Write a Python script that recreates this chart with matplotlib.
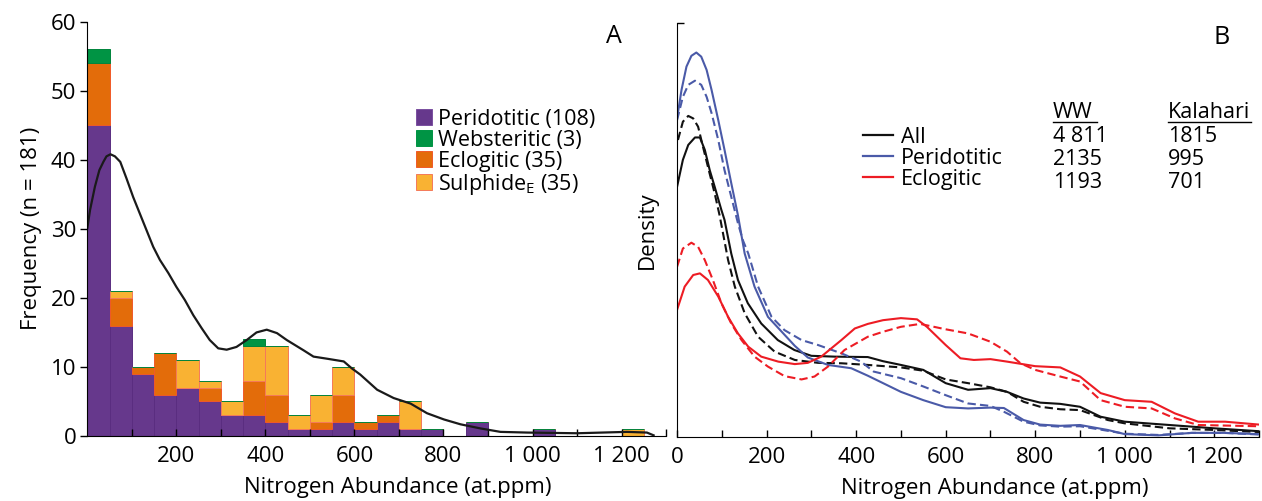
import matplotlib
matplotlib.use("Agg")
import matplotlib.pyplot as plt
from matplotlib.patches import Patch
from matplotlib.lines import Line2D
from matplotlib.ticker import FixedLocator, FuncFormatter

plt.rcParams['font.family'] = ['Open Sans', 'DejaVu Sans']

# ---- panel A: stacked histogram (bin width 50 at.ppm) ----
bin_left = [0, 50, 100, 150, 200, 250, 300, 350, 400, 450, 500, 550, 600,
            650, 700, 750, 800, 850, 900, 950, 1000, 1050, 1100, 1150, 1200]
peridotitic = [45, 16, 9, 6, 7, 5, 3, 3, 2, 1, 1, 2, 1, 2, 1, 1, 0, 2, 0, 0, 1, 0, 0, 0, 0]
eclogitic = [9, 4, 1, 6, 0, 2, 0, 5, 4, 0, 1, 4, 1, 1, 0, 0, 0, 0, 0, 0, 0, 0, 0, 0, 0]
sulphide = [0, 1, 0, 0, 4, 1, 2, 5, 7, 2, 4, 4, 0, 0, 4, 0, 0, 0, 0, 0, 0, 0, 0, 0, 1]
websteritic = [2, 0, 0, 0, 0, 0, 0, 1, 0, 0, 0, 0, 0, 0, 0, 0, 0, 0, 0, 0, 0, 0, 0, 0, 0]

# smoothed frequency curve drawn over the histogram
curve_x = [0, 6, 17, 27, 36, 43, 52, 62, 74, 88, 103, 118, 133, 148, 163, 182, 200, 219, 238, 257,
           275, 294, 313, 335, 358, 380, 403, 426, 448, 486, 508, 538, 576, 594, 613, 651, 688, 726,
           763, 801, 838, 883, 928, 988, 1100, 1212, 1257, 1272]
curve_y = [30.1, 32.7, 36.1, 38.5, 39.7, 40.5, 40.8, 40.5, 39.7, 37.3, 34.6, 32.2, 29.8, 27.4, 25.5, 23.6, 21.6, 19.7, 17.5, 15.6,
           13.9, 12.7, 12.5, 12.9, 13.9, 15.0, 15.4, 14.9, 13.9, 12.4, 11.5, 11.2, 10.8, 9.8, 8.9, 6.7, 5.5, 4.7,
           3.3, 2.4, 1.7, 1.1, 0.6, 0.5, 0.4, 0.6, 0.5, 0.1]

# ---- panel B: density curves (solid = WW, dashed = Kalahari) ----
all_ww_x = [0, 13, 25, 40, 51, 62, 73, 84, 99, 106, 121, 136, 158, 188, 225, 262, 300, 352, 426, 460,
            500, 550, 600, 650, 700, 737, 774, 811, 856, 900, 946, 1000, 1100, 1200, 1300]
all_ww_y = [60.4, 66.9, 70.5, 72.3, 72.3, 69.3, 64.4, 60.4, 54.8, 52.4, 44.3, 37.9, 32.3, 27.4, 23.4, 21, 19.6, 19.4, 19.3, 18.3,
            17.4, 16.2, 13, 11.4, 11.8, 10.9, 9.3, 8.3, 8.0, 7.3, 4.9, 3.7, 2.9, 2.1, 1.4]
all_kal_x = [2, 13, 25, 36, 47, 58, 69, 84, 95, 114, 129, 151, 181, 218, 263, 315, 367, 426,
             500, 550, 600, 650, 700, 737, 774, 811, 856, 900, 962, 1000, 1100, 1200, 1300]
all_kal_y = [71.7, 76.1, 77.5, 76.9, 74.9, 70, 65.2, 58.8, 53.5, 42.7, 36.3, 29.9, 24.2, 20.6, 18.6, 17.9, 17.8, 17.4,
             16.8, 16, 13.9, 13, 12, 10.9, 8.5, 7.3, 6.7, 6.5, 4.1, 3.3, 2.1, 1.7, 1.2]
per_ww_x = [0, 10, 21, 32, 43, 54, 66, 77, 92, 106, 121, 136, 151, 173, 203, 233, 263, 292, 337, 389, 426,
            500, 550, 600, 650, 700, 730, 774, 811, 856, 900, 962, 1000, 1075, 1150, 1222, 1300]
per_ww_y = [76.9, 83.8, 89.4, 92, 92.8, 91.8, 88.6, 83.8, 76.5, 69.3, 61.3, 53.5, 44.3, 36.3, 29, 25.5, 22, 19.2, 17.4, 16.6, 14.8,
            10.9, 8.9, 7.2, 6.9, 7.1, 7.0, 4.1, 3.0, 2.7, 2.9, 1.7, 0.7, 0.4, 1.0, 1.0, 0.7]
per_kal_x = [0, 13, 25, 40, 54, 66, 77, 92, 106, 121, 136, 147, 159, 181, 211, 240, 278, 315, 367, 411,
             439, 500, 550, 600, 650, 700, 730, 774, 811, 856, 900, 962, 1000, 1075, 1150, 1222, 1300]
per_kal_y = [76.5, 82.1, 85, 86, 85, 82.1, 78.2, 71.7, 64.4, 58, 51.6, 47.5, 44.3, 36.3, 29, 25.8, 23.4, 22.2, 20.2, 18.2,
             15.8, 14.2, 12.2, 10.1, 8.1, 7.5, 6.1, 3.7, 2.8, 2.5, 2.6, 1.5, 0.8, 0.5, 1.0, 1.0, 0.6]
ecl_ww_x = [0, 17, 36, 51, 69, 92, 114, 136, 159, 188, 226, 263, 292, 322, 367, 397, 426, 460, 500, 536, 558,
            600, 633, 663, 700, 737, 800, 856, 900, 946, 1000, 1060, 1112, 1164, 1224, 1300]
ecl_ww_y = [30.7, 36.3, 39.1, 39.5, 37.9, 33.9, 29, 25, 21.8, 19.4, 18.2, 17.6, 17.9, 19.4, 23.4, 26.2, 27.3, 28.2, 28.7, 28.4, 26.6,
            22.2, 19, 18.6, 18.8, 18.2, 17.1, 16.8, 14.6, 10.6, 8.9, 8.5, 5.7, 3.7, 3.7, 3.0]
ecl_kal_x = [0, 13, 32, 47, 62, 80, 99, 121, 144, 173, 203, 240, 278, 307, 337, 374, 426, 460, 500, 543, 600,
             650, 700, 737, 767, 800, 856, 900, 946, 1000, 1060, 1112, 1164, 1300]
ecl_kal_y = [41.1, 45.5, 46.9, 45.9, 42.7, 37.9, 32.3, 27.4, 23.4, 19.4, 17, 14.7, 13.9, 14.6, 17, 21, 24.2, 25.4, 26.6, 27.3, 26,
             25, 23, 20.6, 17.8, 16.2, 14.6, 13.4, 8.9, 7.3, 6.9, 4.5, 2.9, 2.6]

table_rows = ['All', 'Peridotitic', 'Eclogitic']
ww_counts = ['4 811', '2135', '1193']
kal_counts = ['1815', '995', '701']

PURPLE = '#66388c'
GREEN = '#009444'
ORANGE = '#e36c0a'
YELLOW = '#f9b233'
BLUE = '#4a5aa8'
RED = '#ed1c24'
FS = 16
LFS = 15.5

def thousands(v, pos):
    v = int(round(v))
    return f"{v // 1000} {v % 1000:03d}" if v >= 1000 else str(v)

fig = plt.figure(figsize=(12.62, 5.01), dpi=100)
ax_a = fig.add_axes([0.0692, 0.1297, 0.4586, 0.827])
ax_b = fig.add_axes([0.5365, 0.1277, 0.4612, 0.827])

# stacked bars: peridotitic, eclogitic, sulphide, websteritic
bottom = [0] * len(bin_left)
layers = [(peridotitic, PURPLE, '#5a2d80'),
          (eclogitic, ORANGE, '#f05a28'),
          (sulphide, YELLOW, '#f47a5a'),
          (websteritic, GREEN, '#00843c')]
for vals, col, edge in layers:
    ax_a.bar(bin_left, vals, width=50, bottom=bottom, align='edge',
             color=col, edgecolor=edge, linewidth=0.7)
    bottom = [b + v for b, v in zip(bottom, vals)]
ax_a.plot(curve_x, curve_y, color='#1a1a1a', lw=1.6)

ax_a.set_xlim(0, 1300)
ax_a.set_ylim(0, 60)
ax_a.spines[['top', 'right']].set_visible(False)
ax_a.xaxis.set_major_locator(FixedLocator([200, 400, 600, 800, 1000, 1200]))
ax_a.xaxis.set_minor_locator(FixedLocator([100, 300, 500, 700, 900, 1100, 1300]))
ax_a.xaxis.set_major_formatter(FuncFormatter(thousands))
ax_a.tick_params(axis='x', which='both', direction='in', length=5, width=1, pad=7, labelsize=FS)
ax_a.tick_params(axis='y', direction='out', length=5, width=1, pad=3, labelsize=FS)
ax_a.set_yticks(range(0, 61, 10))
ax_a.set_xlabel('Nitrogen Abundance (at.ppm)', fontsize=FS)
ax_a.xaxis.set_label_coords(0.537, -0.10)
ax_a.set_ylabel('Frequency (n = 181)', fontsize=FS, labelpad=6)
ax_a.text(0.91, 0.964, 'A', transform=ax_a.transAxes, fontsize=18, ha='center', va='center')

handles = [Patch(facecolor=PURPLE, edgecolor='#7b4fa0', lw=0.7),
           Patch(facecolor=GREEN, edgecolor=GREEN, lw=0.7),
           Patch(facecolor=ORANGE, edgecolor='#f05a28', lw=0.7),
           Patch(facecolor=YELLOW, edgecolor='#f47a5a', lw=0.7)]
labels = ['Peridotitic (108)', 'Websteritic (3)', 'Eclogitic (35)', 'Sulphide$_\\mathregular{E}$ (35)']
ax_a.legend(handles, labels, loc='upper left', bbox_to_anchor=(0.5675, 0.79), frameon=False,
            fontsize=LFS, handlelength=0.75, handleheight=0.75, handletextpad=0.3,
            labelspacing=0.0, borderaxespad=0, borderpad=0)

# density curves
dash = (0, (4, 2))
ax_b.plot(all_ww_x, all_ww_y, color='#111111', lw=1.5)
ax_b.plot(all_kal_x, all_kal_y, color='#111111', lw=1.5, ls=dash)
ax_b.plot(per_ww_x, per_ww_y, color=BLUE, lw=1.5)
ax_b.plot(per_kal_x, per_kal_y, color=BLUE, lw=1.5, ls=dash)
ax_b.plot(ecl_ww_x, ecl_ww_y, color=RED, lw=1.5)
ax_b.plot(ecl_kal_x, ecl_kal_y, color=RED, lw=1.5, ls=dash)

ax_b.set_xlim(0, 1300)
ax_b.set_ylim(0, 100)
ax_b.spines[['top', 'right']].set_visible(False)
ax_b.xaxis.set_major_locator(FixedLocator([0, 200, 400, 600, 800, 1000, 1200]))
ax_b.xaxis.set_minor_locator(FixedLocator([100, 300, 500, 700, 900, 1100, 1300]))
ax_b.xaxis.set_major_formatter(FuncFormatter(thousands))
ax_b.tick_params(axis='x', which='both', direction='in', length=5, width=1, pad=7, labelsize=FS)
ax_b.set_yticks([100])
ax_b.tick_params(axis='y', direction='in', length=5, width=1, labelleft=False)
ax_b.set_xlabel('Nitrogen Abundance (at.ppm)', fontsize=FS)
ax_b.xaxis.set_label_coords(0.545, -0.10)
ax_b.set_ylabel('Density', fontsize=FS, labelpad=14)
ax_b.text(0.935, 0.964, 'B', transform=ax_b.transAxes, fontsize=18, ha='center', va='center')

leg_handles = [Line2D([], [], color='#111111', lw=1.6),
               Line2D([], [], color=BLUE, lw=1.6),
               Line2D([], [], color=RED, lw=1.6)]
ax_b.legend(leg_handles, table_rows, loc='upper left', bbox_to_anchor=(0.32, 0.749), frameon=False,
            fontsize=LFS, handlelength=1.4, handletextpad=0.35, labelspacing=0.0,
            borderaxespad=0, borderpad=0)

W, H = 1262, 501
fig.text(1053 / W, 1 - 118 / H, 'WW', fontsize=LFS, ha='left', va='baseline')
fig.text(1168 / W, 1 - 118 / H, 'Kalahari', fontsize=LFS, ha='left', va='baseline')
fig.add_artist(Line2D([1053 / W, 1097 / W], [1 - 122 / H] * 2, color='k', lw=1))
fig.add_artist(Line2D([1168 / W, 1251 / W], [1 - 122 / H] * 2, color='k', lw=1))
for i, (w, k) in enumerate(zip(ww_counts, kal_counts)):
    yb = 1 - (142 + 23 * i) / H
    fig.text(1053 / W, yb, w, fontsize=LFS, ha='left', va='baseline')
    fig.text(1168 / W, yb, k, fontsize=LFS, ha='left', va='baseline')

fig.savefig('out.png', dpi=100)
